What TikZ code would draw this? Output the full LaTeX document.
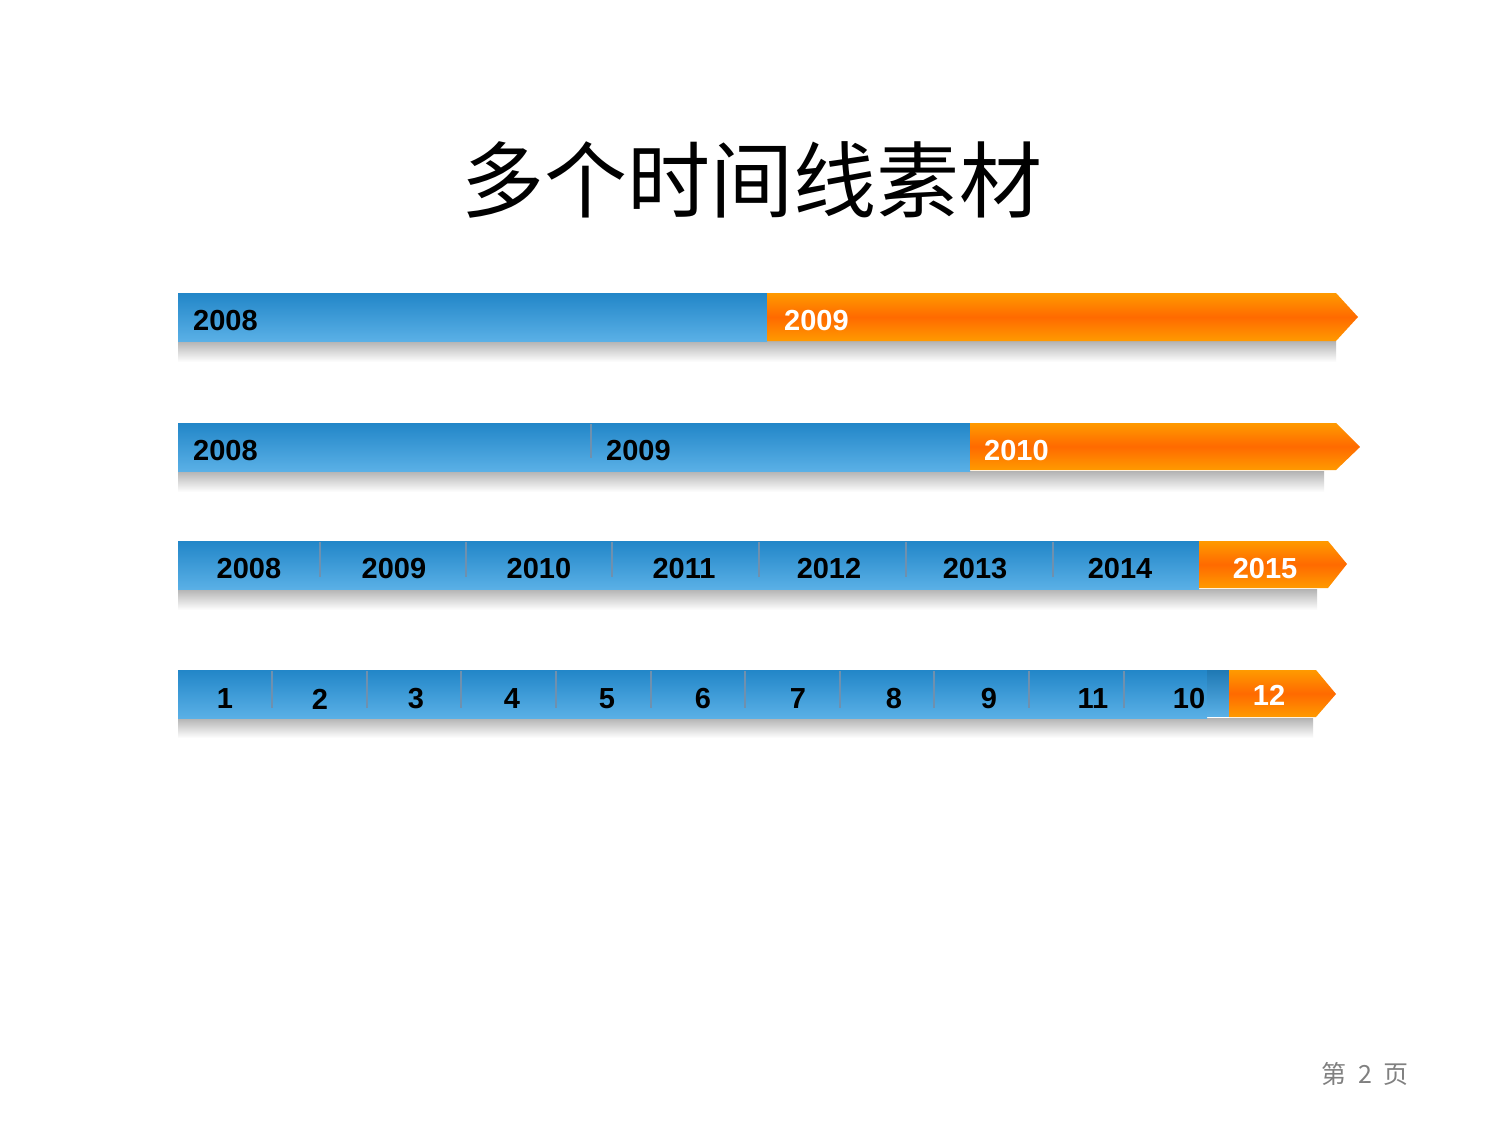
\documentclass[tikz,border=0pt]{standalone}
\usepackage{fontspec}
\setmainfont{Liberation Sans}
\newfontfamily\cjk{Noto Sans CJK SC}
\begin{document}
\begin{tikzpicture}[x=1pt,y=-1pt,
  bluebar/.style={shade, top color=bluetop, bottom color=bluebot, draw=none},
  orangebar/.style={shade, top color=orangeedge, bottom color=orangeedge, middle color=orangemid, draw=none},
  shadowbar/.style={shade, top color=black!30, bottom color=white, draw=none},
  divider/.style={draw=dividergray, line width=1.3pt},
  yr/.style={font=\fontsize{29}{29}\selectfont\bfseries, text=black, inner sep=0pt},
  yrw/.style={yr, text=white},
  yrl/.style={yr, anchor=west},
  yrwl/.style={yrw, anchor=west}]
\definecolor{bluetop}{HTML}{2286C8}
\definecolor{bluebot}{HTML}{5AB0E6}
\definecolor{orangeedge}{HTML}{FF9A00}
\definecolor{orangemid}{HTML}{FF6A00}
\definecolor{footgray}{HTML}{808080}
\definecolor{dividergray}{HTML}{6F90AE}
\useasboundingbox[fill=white] (0,0) rectangle (1500,1125);

% title
\node[font=\cjk\fontsize{83}{83}\selectfont, inner sep=0pt] (title) at (752,180) {多个时间线素材};

% ---------- row 1 ----------
\shade[shadowbar] (178,341) rectangle (1336,362);
\shade[bluebar] (178,293) rectangle (767,341);
\shade[orangebar] (767,293) -- (1336,293) -- (1358,317) -- (1336,341) -- (767,341) -- cycle;
\node[yrl] (r1a) at (193,321) {2008};
\node[yrwl] (r1b) at (784,321) {2009};

% ---------- row 2 ----------
\shade[shadowbar] (178,471) rectangle (1324,492);
\shade[bluebar] (178,423) rectangle (970,471);
\shade[orangebar] (970,423) -- (1336,423) -- (1360,447) -- (1336,470) -- (970,470) -- cycle;
\coordinate (d2t) at (591,424); \coordinate (d2b) at (591,458);
\draw[divider] (d2t) -- (d2b);
\node[yrl] (r2a) at (193,451) {2008};
\node[yrl] (r2b) at (606,451) {2009};
\node[yrwl] (r2c) at (984,451) {2010};

% ---------- row 3 ----------
\shade[shadowbar] (178,589) rectangle (1317,610);
\shade[bluebar] (178,541) rectangle (1199,589);
\shade[orangebar] (1199,541) -- (1328,541) -- (1347,564) -- (1328,588) -- (1199,588) -- cycle;
\foreach \x [count=\i] in {320,466,612,759,906,1053}{
  \coordinate (d3t\i) at (\x,542); \coordinate (d3b\i) at (\x,577);
  \draw[divider] (d3t\i) -- (d3b\i);
}
\foreach \x/\t [count=\i] in {249/2008,394/2009,539/2010,684/2011,829/2012,975/2013,1120/2014}{
  \node[yr] (r3n\i) at (\x,569) {\t};
}
\node[yrw] (r3n8) at (1265,569) {2015};

% ---------- row 4 ----------
\shade[shadowbar] (178,718) rectangle (1313,738);
\shade[bluebar] (178,670) rectangle (1207,718);
\shade[bluebar, top color=bluetop!90!black] (1207,670) rectangle (1229,716);
\shade[orangebar] (1229,670) -- (1316,670) -- (1336,694) -- (1316,717) -- (1229,717) -- cycle;
\foreach \x [count=\i] in {272,367,461,556,651,745,840,934,1029,1124}{
  \coordinate (d4t\i) at (\x,671); \coordinate (d4b\i) at (\x,708);
  \draw[divider] (d4t\i) -- (d4b\i);
}
\foreach \x/\t [count=\i] in {225/1,320/2,416/3,512/4,607/5,703/6,798/7,894/8,989/9,1093/11,1189/10}{
  \node[yr] (r4n\i) at (\x,699) {\t};
}
\node[yrw] (r4n12) at (1269,695) {12};

% footer
\node[font=\cjk\fontsize{25}{25}\selectfont, text=footgray, inner sep=0pt] (foot) at (1365,1074) {第\hspace{0.45em}2\hspace{0.45em}页};
\end{tikzpicture}
\end{document}
